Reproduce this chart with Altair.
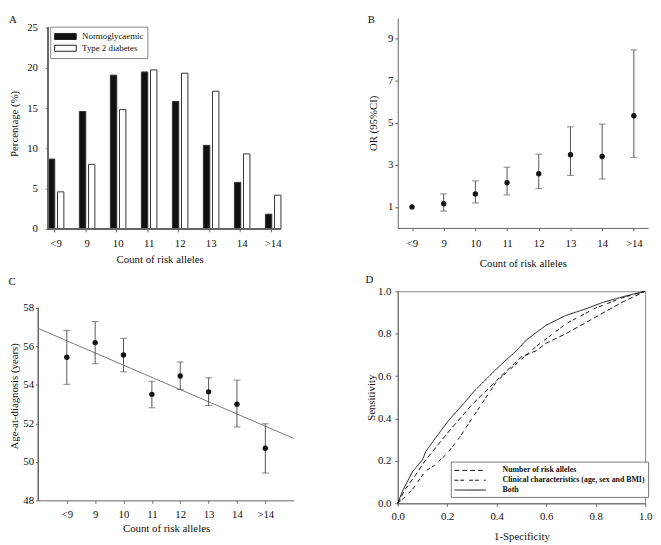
import json
import altair as alt
import pandas as pd

FONT = "Liberation Serif"

categories = ["<9", "9", "10", "11", "12", "13", "14", ">14"]

# Panel A: distribution of risk-allele counts (%)
groups_a = ["Normoglycaemic", "Type 2 diabetes"]
normo_pct = [8.67, 14.58, 19.1, 19.5, 15.84, 10.38, 5.78, 1.83]
t2d_pct = [4.6, 8.02, 14.82, 19.75, 19.34, 17.1, 9.32, 4.19]

# Panel B: odds ratios with 95% CI
or_val = [1.0, 1.15, 1.62, 2.15, 2.58, 3.48, 3.4, 5.34]
or_lo = [None, 0.8, 1.19, 1.57, 1.87, 2.5, 2.33, 3.36]
or_hi = [None, 1.62, 2.24, 2.89, 3.51, 4.81, 4.94, 8.47]

# Panel C: age at diagnosis
age_mean = [55.44, 56.2, 55.56, 53.51, 54.46, 53.64, 53.0, 50.71]
age_lo = [54.03, 55.1, 54.68, 52.81, 53.76, 52.93, 51.81, 49.42]
age_hi = [56.83, 57.29, 56.42, 54.19, 55.19, 54.37, 54.25, 51.98]
fit_x = [0, 9]
fit_y = [56.93, 51.22]

# Panel D: ROC curves
roc_names = ["Number of risk alleles",
             "Clinical characteristics (age, sex and BMI)",
             "Both"]
risk_fpr = [0, 0.03, 0.07, 0.11, 0.2, 0.3, 0.4, 0.5, 0.56, 0.6, 0.68, 0.8, 0.91, 1.0]
risk_tpr = [0, 0.066, 0.13, 0.2, 0.33, 0.465, 0.58, 0.69, 0.72, 0.755, 0.8, 0.878, 0.95, 1.0]
clin_fpr = [0, 0.03, 0.06, 0.11, 0.15, 0.2, 0.25, 0.3, 0.4, 0.5, 0.56, 0.68, 0.8, 0.91, 1.0]
clin_tpr = [0, 0.03, 0.066, 0.15, 0.18, 0.236, 0.31, 0.4, 0.575, 0.68, 0.74, 0.847, 0.921, 0.97, 1.0]
both_fpr = [0, 0.02, 0.06, 0.1, 0.113, 0.2, 0.27, 0.31, 0.4, 0.48, 0.52, 0.6, 0.68, 0.76, 0.83, 0.91, 1.0]
both_tpr = [0, 0.06, 0.15, 0.205, 0.244, 0.383, 0.475, 0.53, 0.635, 0.72, 0.77, 0.84, 0.886, 0.917, 0.948, 0.974, 1.0]

AX = "#666"
TXT = "#111"


def letter(t, off):
    return alt.TitleParams(t, anchor="start", frame="bounds", offset=off,
                           font=FONT, fontSize=11, fontWeight="normal", color=TXT)


# ---------------- Panel A ----------------
dfA = pd.DataFrame({
    "cat": categories * 2,
    "group": [groups_a[0]] * len(categories) + [groups_a[1]] * len(categories),
    "pct": normo_pct + t2d_pct,
})
yA_scale = alt.Scale(domain=[0, 26.22], nice=False)
barsA = alt.Chart(dfA).mark_bar(stroke="#333", strokeWidth=1).encode(
    x=alt.X("cat:N", sort=categories, title="Count of risk alleles",
            scale=alt.Scale(paddingInner=0.5, paddingOuter=0.16, align=1),
            axis=alt.Axis(labelAngle=0, bandPosition=0.4, labelPadding=6, titlePadding=5,
                          domain=False)),
    xOffset=alt.XOffset("group:N", sort=groups_a, scale=alt.Scale(paddingInner=0.3)),
    y=alt.Y("pct:Q", title="Percentage (%)", scale=yA_scale,
            axis=alt.Axis(values=[0, 5, 10, 15, 20, 25], labelPadding=8, titlePadding=7,
                          offset=-10, domain=False)),
    fill=alt.Fill("group:N", sort=groups_a,
                  scale=alt.Scale(domain=groups_a, range=["#111111", "#ffffff"]),
                  legend=alt.Legend(title=None, orient="none", legendX=12, legendY=9,
                                    strokeColor="#888", fillColor="white", padding=4,
                                    symbolType="M-2,-0.56H2V0.56H-2Z", symbolSize=121,
                                    symbolOffset=5.5, labelOffset=11,
                                    symbolStrokeColor="#222", symbolStrokeWidth=1,
                                    labelFont=FONT, labelFontSize=9, labelColor=TXT,
                                    rowPadding=0)),
)
yaxisA = alt.Chart(dfA).mark_rule(color=AX, strokeWidth=1).encode(
    x=alt.value(10), y=alt.datum(0, scale=yA_scale), y2=alt.datum(25))
xaxisA = alt.Chart(dfA).mark_rule(color=AX, strokeWidth=1).encode(
    x=alt.value(10), x2=alt.value(247), y=alt.datum(0, scale=yA_scale))
A = alt.layer(barsA, yaxisA, xaxisA, title=letter("A", -7)).properties(width=247, height=215)

# ---------------- Panel B ----------------
dfB = pd.DataFrame({"cat": categories, "or": or_val, "lo": or_lo, "hi": or_hi})
xB = alt.X("cat:N", sort=categories, title="Count of risk alleles",
           scale=alt.Scale(type="point", padding=0.45),
           axis=alt.Axis(labelAngle=0, labelPadding=7, titlePadding=9))


def yB(field):
    return alt.Y(field, title="OR (95%CI)", scale=alt.Scale(domain=[0, 10], nice=False),
                 axis=alt.Axis(values=[1, 3, 5, 7, 9], labelPadding=2, titlePadding=9))


baseB = alt.Chart(dfB)
ciB = baseB.transform_filter("isValid(datum.lo)")
B = alt.layer(
    ciB.mark_rule(color="#555", strokeWidth=1).encode(x=xB, y=yB("lo:Q"), y2="hi:Q"),
    ciB.mark_tick(orient="horizontal", size=7, thickness=1, color="#555").encode(x=xB, y=yB("lo:Q")),
    ciB.mark_tick(orient="horizontal", size=7, thickness=1, color="#555").encode(x=xB, y=yB("hi:Q")),
    baseB.mark_circle(size=30, color="#111", opacity=1).encode(x=xB, y=yB("or:Q")),
    title=letter("B", -7),
).properties(width=255, height=214)

# ---------------- Panel C ----------------
dfC = pd.DataFrame({"idx": list(range(1, len(categories) + 1)), "cat": categories,
                    "age": age_mean, "lo": age_lo, "hi": age_hi})
dfFit = pd.DataFrame({"idx": fit_x, "age": fit_y})
label_expr = f"{json.dumps(categories)}[datum.value - 1]"
yC_scale = alt.Scale(domain=[48, 58.867], nice=False)
xC = alt.X("idx:Q", title="Count of risk alleles", scale=alt.Scale(domain=[0, 9], nice=False),
           axis=alt.Axis(values=list(range(1, 9)), labelExpr=label_expr, labelFlush=False,
                         labelPadding=5, titlePadding=4))


def yC(field):
    return alt.Y(field, title="Age-at-diagnosis (years)", scale=yC_scale,
                 axis=alt.Axis(values=[48, 50, 52, 54, 56, 58], labelPadding=2,
                               titlePadding=3.5, domain=False))


baseC = alt.Chart(dfC)
C = alt.layer(
    alt.Chart(dfFit).mark_line(color="#777", strokeWidth=1).encode(x=xC, y=yC("age:Q")),
    baseC.mark_rule(color="#555", strokeWidth=1).encode(x=xC, y=yC("lo:Q"), y2="hi:Q"),
    baseC.mark_tick(orient="horizontal", size=7, thickness=1, color="#555").encode(x=xC, y=yC("lo:Q")),
    baseC.mark_tick(orient="horizontal", size=7, thickness=1, color="#555").encode(x=xC, y=yC("hi:Q")),
    baseC.mark_circle(size=30, color="#111", opacity=1).encode(x=xC, y=yC("age:Q")),
    baseC.mark_rule(color=AX, strokeWidth=1).encode(
        x=alt.value(0), y=alt.datum(48, scale=yC_scale), y2=alt.datum(58)),
    title=letter("C", 4.5),
).properties(width=260, height=213)

# ---------------- Panel D ----------------
dfD = pd.DataFrame({
    "fpr": risk_fpr + clin_fpr + both_fpr,
    "tpr": risk_tpr + clin_tpr + both_tpr,
    "model": [roc_names[0]] * len(risk_fpr) + [roc_names[1]] * len(clin_fpr)
             + [roc_names[2]] * len(both_fpr),
})
D = alt.Chart(dfD, title=letter("D", 0)).mark_line(color="#111", strokeWidth=1).encode(
    x=alt.X("fpr:Q", title="1-Specificity", scale=alt.Scale(domain=[0, 1], nice=False),
            axis=alt.Axis(values=[0, 0.2, 0.4, 0.6, 0.8, 1.0], format=".1f", labelFlush=False,
                          labelPadding=5, titlePadding=9)),
    y=alt.Y("tpr:Q", title="Sensitivity", scale=alt.Scale(domain=[0, 1], nice=False),
            axis=alt.Axis(values=[0, 0.2, 0.4, 0.6, 0.8, 1.0], format=".1f", labelFlush=False,
                          labelPadding=4, titlePadding=1)),
    strokeDash=alt.StrokeDash("model:N", sort=roc_names,
                              scale=alt.Scale(domain=roc_names,
                                              range=[[5, 3], [4, 2, 4, 5], [1, 0]]),
                              legend=alt.Legend(title=None, orient="none", legendX=420, legendY=452,
                                                strokeColor="#777", fillColor="white", padding=3,
                                                symbolType="M-3,0H3", symbolSize=114,
                                                symbolOffset=10.7, labelOffset=27,
                                                symbolStrokeColor="#111", symbolStrokeWidth=1,
                                                labelFont=FONT, labelFontSize=8,
                                                labelFontWeight="bold", labelColor=TXT,
                                                rowPadding=-2)),
    order=alt.Order("fpr:Q"),
).properties(width=252, height=216, view=alt.ViewBackground(stroke="#888"))

chart = alt.concat(A, B, C, D, columns=2,
                   spacing=alt.RowColnumber(row=4.5, column=69)).properties(
    padding=0
).configure_view(stroke="transparent").configure_axis(
    domainColor=AX, tickColor=AX, tickSize=3, grid=False,
    labelFont=FONT, titleFont=FONT, labelFontSize=11, titleFontSize=11,
    titleFontWeight="normal", labelColor=TXT, titleColor=TXT,
)

chart.save("out.html", embed_options={"renderer": "svg", "actions": False})
